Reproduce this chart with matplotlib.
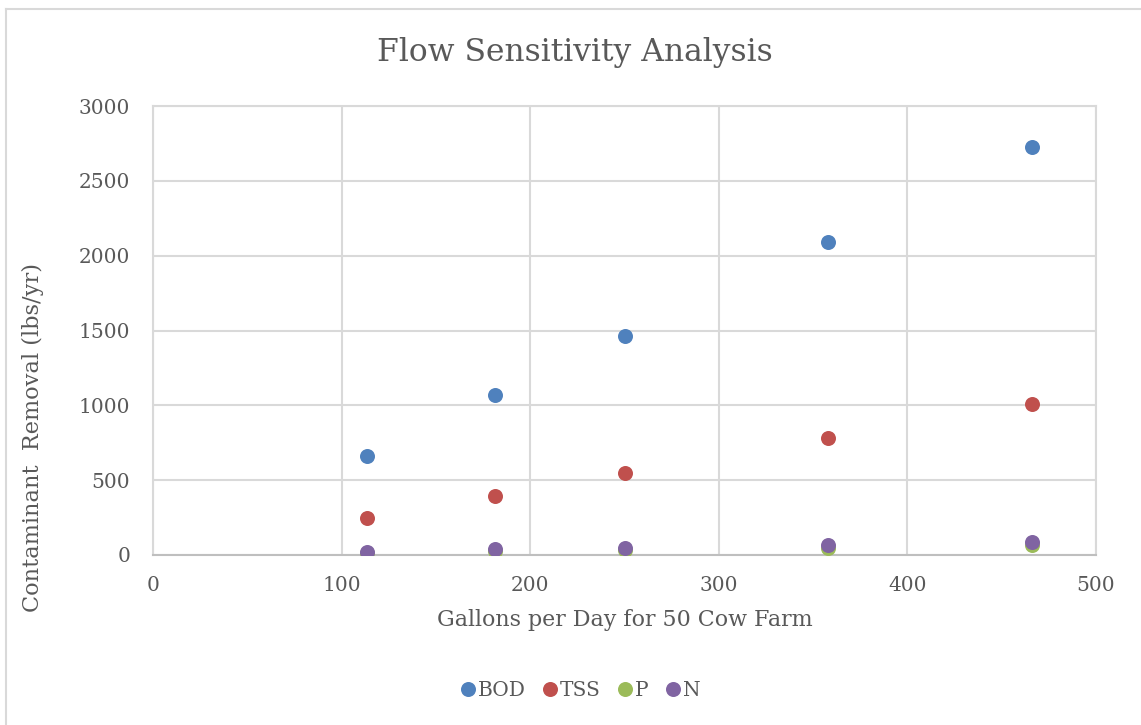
import matplotlib
matplotlib.use('Agg')
import matplotlib.pyplot as plt
from matplotlib.lines import Line2D

gallons = [113.5, 181.5, 250, 358, 466]
bod = [661, 1066, 1462, 2090, 2724]
tss = [247, 396, 545, 780, 1012]
p = [15, 26, 36, 48, 66]
n = [22, 38, 50, 67, 89]

series_names = ['BOD', 'TSS', 'P', 'N']
series_colors = ['#4F81BD', '#C0504D', '#9BBB59', '#8064A2']

plt.rcParams['font.family'] = ['DejaVu Serif']
text_color = '#595959'
grid_color = '#D9D9D9'

fig = plt.figure(figsize=(11.41, 7.25), dpi=100)
ax = fig.add_axes([153 / 1141, 1 - 555 / 725, (1096 - 153) / 1141, (555 - 106) / 725])

for name, vals, color in zip(series_names, [bod, tss, p, n], series_colors):
    ax.plot(gallons, vals, linestyle='none', marker='o', markersize=10.8,
            color=color, markeredgewidth=0, label=name, zorder=3)

ax.set_xlim(0, 500)
ax.set_ylim(0, 3000)
ax.set_xticks(range(0, 501, 100))
ax.set_yticks(range(0, 3001, 500))
ax.grid(True, color=grid_color, linewidth=1.5, zorder=0)
ax.tick_params(length=0, labelsize=14.5, colors=text_color)
ax.tick_params(axis='x', pad=15)
ax.tick_params(axis='y', pad=16.5)
for side in ['top', 'right', 'left']:
    ax.spines[side].set_color(grid_color)
    ax.spines[side].set_linewidth(1.5)
ax.spines['bottom'].set_color('#BFBFBF')
ax.spines['bottom'].set_linewidth(1.5)

ax.set_xlabel('Gallons per Day for 50 Cow Farm', fontsize=15.9, color=text_color, labelpad=10)
fig.text(33 / 1141, 1 - 437 / 725, 'Contaminant  Removal (lbs/yr)', fontsize=16.2,
         color=text_color, rotation=90, ha='center', va='center')
fig.text(575 / 1141, 1 - 52 / 725, 'Flow Sensitivity Analysis', fontsize=22.6,
         color=text_color, ha='center', va='center')

handles = [Line2D([], [], linestyle='none', marker='o', markersize=10.8,
                  color=c, markeredgewidth=0) for c in series_colors]
fig.legend(handles, series_names, loc='center', bbox_to_anchor=(578 / 1141, 1 - 691 / 725),
           ncol=4, frameon=False, fontsize=14.5, labelcolor=text_color,
           handletextpad=-0.1, columnspacing=0.6, handlelength=1.2)

# outer chart border (clipped at right and bottom)
fig.add_artist(Line2D([5.5 / 1141, 5.5 / 1141], [0, 1 - 9 / 725], color=grid_color, linewidth=1.5))
fig.add_artist(Line2D([5.5 / 1141, 1], [1 - 9 / 725, 1 - 9 / 725], color=grid_color, linewidth=1.5))

fig.savefig('out.png', dpi=100)
